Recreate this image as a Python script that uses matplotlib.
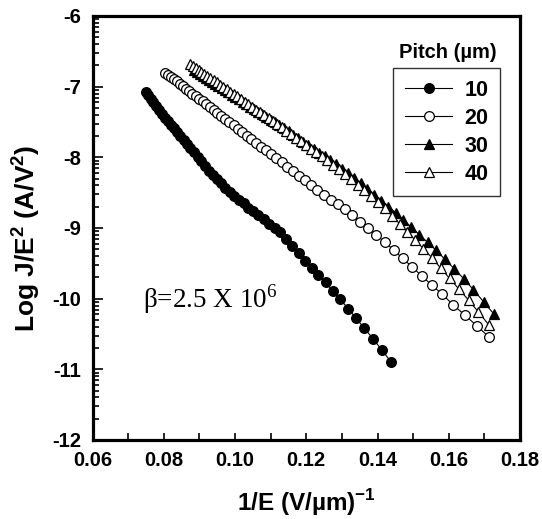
import numpy as np
import matplotlib
matplotlib.use("Agg")
import matplotlib.pyplot as plt
from matplotlib.ticker import MultipleLocator, FixedLocator

plt.rcParams['font.family'] = ['Liberation Sans', 'DejaVu Sans']
plt.rcParams['mathtext.fontset'] = 'custom'
plt.rcParams['mathtext.rm'] = 'Liberation Serif'
plt.rcParams['mathtext.bf'] = 'Liberation Sans:bold'

# pitch 10 um (filled circles)
x10 = [0.07491, 0.07563, 0.07637, 0.07712, 0.07789, 0.07868, 0.07948, 0.08030, 0.08113, 0.08198,
       0.08285, 0.08374, 0.08465, 0.08557, 0.08652, 0.08749, 0.08848, 0.08949, 0.09053, 0.09159,
       0.09268, 0.09379, 0.09493, 0.09610, 0.09729, 0.09852, 0.09978, 0.10107, 0.10240, 0.10376,
       0.10515, 0.10659, 0.10806, 0.10958, 0.11114, 0.11274, 0.11439, 0.11609, 0.11784, 0.11965,
       0.12151, 0.12343, 0.12541, 0.12745, 0.12957, 0.13175, 0.13401, 0.13635, 0.13877, 0.14128,
       0.14388]
y10 = [-7.07, -7.12, -7.17, -7.22, -7.28, -7.33, -7.39, -7.44, -7.49, -7.54,
       -7.59, -7.64, -7.70, -7.75, -7.81, -7.87, -7.93, -7.99, -8.05, -8.12,
       -8.19, -8.25, -8.31, -8.37, -8.43, -8.49, -8.55, -8.60, -8.65, -8.71,
       -8.76, -8.82, -8.87, -8.94, -9.00, -9.06, -9.15, -9.25, -9.35, -9.46,
       -9.56, -9.67, -9.77, -9.89, -10.01, -10.14, -10.28, -10.42, -10.57, -10.73,
       -10.90]

# pitch 20 um (open circles)
x20 = [0.08039, 0.08117, 0.08197, 0.08278, 0.08361, 0.08446, 0.08532, 0.08621, 0.08711, 0.08803,
       0.08897, 0.08993, 0.09091, 0.09191, 0.09294, 0.09398, 0.09506, 0.09615, 0.09728, 0.09843,
       0.09960, 0.10081, 0.10204, 0.10331, 0.10460, 0.10593, 0.10730, 0.10870, 0.11013, 0.11161,
       0.11312, 0.11468, 0.11628, 0.11792, 0.11962, 0.12136, 0.12315, 0.12500, 0.12690, 0.12887,
       0.13089, 0.13298, 0.13514, 0.13736, 0.13966, 0.14205, 0.14451, 0.14706, 0.14970, 0.15244,
       0.15528, 0.15823, 0.16129, 0.16447, 0.16779, 0.17123]
y20 = [-6.800, -6.830, -6.861, -6.893, -6.925, -6.958, -6.992, -7.026, -7.061, -7.097,
       -7.134, -7.171, -7.209, -7.248, -7.288, -7.329, -7.371, -7.413, -7.457, -7.502,
       -7.547, -7.594, -7.642, -7.692, -7.742, -7.794, -7.847, -7.901, -7.957, -8.015,
       -8.073, -8.134, -8.196, -8.260, -8.326, -8.39, -8.46, -8.53, -8.60, -8.66,
       -8.73, -8.82, -8.91, -9.00, -9.10, -9.20, -9.31, -9.43, -9.55, -9.68,
       -9.81, -9.94, -10.09, -10.23, -10.38, -10.54]

# pitch 30 um (filled triangles)
x30 = [0.08857, 0.08937, 0.09017, 0.09099, 0.09183, 0.09268, 0.09355, 0.09443, 0.09533, 0.09625,
       0.09718, 0.09814, 0.09911, 0.10010, 0.10111, 0.10215, 0.10320, 0.10428, 0.10537, 0.10650,
       0.10764, 0.10881, 0.11001, 0.11123, 0.11249, 0.11377, 0.11507, 0.11641, 0.11779, 0.11919,
       0.12063, 0.12210, 0.12361, 0.12516, 0.12674, 0.12837, 0.13004, 0.13175, 0.13351, 0.13532,
       0.13717, 0.13908, 0.14104, 0.14306, 0.14514, 0.14728, 0.14948, 0.15175, 0.15408, 0.15649,
       0.15898, 0.16155, 0.16420, 0.16694, 0.16978, 0.17271]
y30 = [-6.770, -6.796, -6.822, -6.849, -6.876, -6.904, -6.932, -6.960, -6.990, -7.020,
       -7.050, -7.081, -7.113, -7.145, -7.178, -7.211, -7.246, -7.281, -7.316, -7.353,
       -7.390, -7.428, -7.467, -7.507, -7.548, -7.590, -7.633, -7.680, -7.729, -7.778,
       -7.829, -7.881, -7.934, -7.988, -8.044, -8.101, -8.160, -8.220, -8.287, -8.368,
       -8.447, -8.528, -8.611, -8.697, -8.785, -8.885, -8.988, -9.094, -9.204, -9.318,
       -9.445, -9.578, -9.718, -9.874, -10.045, -10.220]

# pitch 40 um (open triangles)
x40 = [0.08741, 0.08818, 0.08897, 0.08977, 0.09058, 0.09141, 0.09225, 0.09311, 0.09398, 0.09488,
       0.09579, 0.09671, 0.09766, 0.09862, 0.09960, 0.10060, 0.10163, 0.10267, 0.10373, 0.10482,
       0.10593, 0.10707, 0.10823, 0.10941, 0.11062, 0.11186, 0.11312, 0.11442, 0.11574, 0.11710,
       0.11848, 0.11990, 0.12136, 0.12285, 0.12438, 0.12594, 0.12755, 0.12920, 0.13089, 0.13263,
       0.13441, 0.13624, 0.13812, 0.14006, 0.14205, 0.14409, 0.14620, 0.14837, 0.15060, 0.15291,
       0.15528, 0.15773, 0.16026, 0.16287, 0.16556, 0.16835, 0.17123]
y40 = [-6.680, -6.707, -6.734, -6.762, -6.790, -6.819, -6.849, -6.878, -6.909, -6.940,
       -6.972, -7.004, -7.037, -7.070, -7.104, -7.139, -7.175, -7.211, -7.248, -7.286,
       -7.324, -7.364, -7.404, -7.445, -7.488, -7.531, -7.572, -7.623, -7.671, -7.720,
       -7.771, -7.823, -7.876, -7.930, -7.986, -8.043, -8.102, -8.166, -8.238, -8.312,
       -8.388, -8.466, -8.547, -8.629, -8.717, -8.827, -8.939, -9.054, -9.172, -9.294,
       -9.420, -9.567, -9.714, -9.865, -10.021, -10.189, -10.370]

pitch_labels = ['10', '20', '30', '40']
x_ticks = [0.06, 0.08, 0.10, 0.12, 0.14, 0.16, 0.18]
y_ticks = [-12, -11, -10, -9, -8, -7, -6]

fig = plt.figure(figsize=(5.42, 5.19), dpi=100)
ax = fig.add_axes([92.5 / 542, 1 - 440 / 519, (520 - 92.5) / 542, (440 - 16) / 519])

series = [
    (x10, y10, 'o', 'black'),
    (x20, y20, 'o', 'white'),
    (x30, y30, '^', 'black'),
    (x40, y40, '^', 'white'),
]
for (xs, ys, mk, fc), lab in zip(series, pitch_labels):
    ax.plot(xs, ys, color='black', lw=0.8, marker=mk, markersize=7,
            markerfacecolor=fc, markeredgecolor='black', markeredgewidth=0.9, label=lab)

ax.set_xlim(0.06, 0.18)
ax.set_ylim(-12, -6)
ax.set_xticks(x_ticks)
ax.set_xticklabels(['%.2f' % v for v in x_ticks])
ax.set_yticks(y_ticks)
ax.set_yticklabels([str(v) for v in y_ticks])
ax.xaxis.set_minor_locator(MultipleLocator(0.01))
# log-style minor ticks inside each decade
minor_y = []
for d in range(-12, -6):
    for k in range(2, 10):
        minor_y.append(d + np.log10(k))
ax.yaxis.set_minor_locator(FixedLocator(minor_y))

for s in ax.spines.values():
    s.set_linewidth(2.3)
ax.tick_params(axis='both', which='both', direction='in', width=1.2, top=False, right=False)
ax.tick_params(axis='x', which='both', length=5, pad=8)
ax.tick_params(axis='y', which='major', length=7, pad=8)
ax.tick_params(axis='y', which='minor', length=4)
for lbl in ax.get_xticklabels() + ax.get_yticklabels():
    lbl.set_fontsize(14.5)
    lbl.set_fontweight('bold')

ax.set_xlabel('1/E (V/\u00b5m)$^{\\mathbf{-1}}$', fontsize=17.5, fontweight='bold', labelpad=12)
ax.set_ylabel(r'Log J/E$^{\mathbf{2}}$ (A/V$^{\mathbf{2}}$)', fontsize=19, fontweight='bold')
ax.yaxis.set_label_coords(-0.117, 0.475)

ax.text(0.0742, -10.13, '\u03b2=2.5 X 10$^{6}$', family='Liberation Serif', fontsize=19.5)

leg = ax.legend(loc='upper right', bbox_to_anchor=(500 / 542, 1 - 68 / 519), bbox_transform=fig.transFigure,
                frameon=True, fancybox=False, edgecolor='black', borderaxespad=0,
                prop={'weight': 'bold', 'size': 15.5}, handlelength=2.2, labelspacing=0.32,
                handletextpad=0.55, borderpad=0.55)
leg.get_frame().set_linewidth(1.0)
fig.text(448 / 542, 1 - 53 / 519, 'Pitch (\u00b5m)', ha='center', va='center',
         fontsize=14.5, fontweight='bold')

fig.savefig('out.png', dpi=100)
